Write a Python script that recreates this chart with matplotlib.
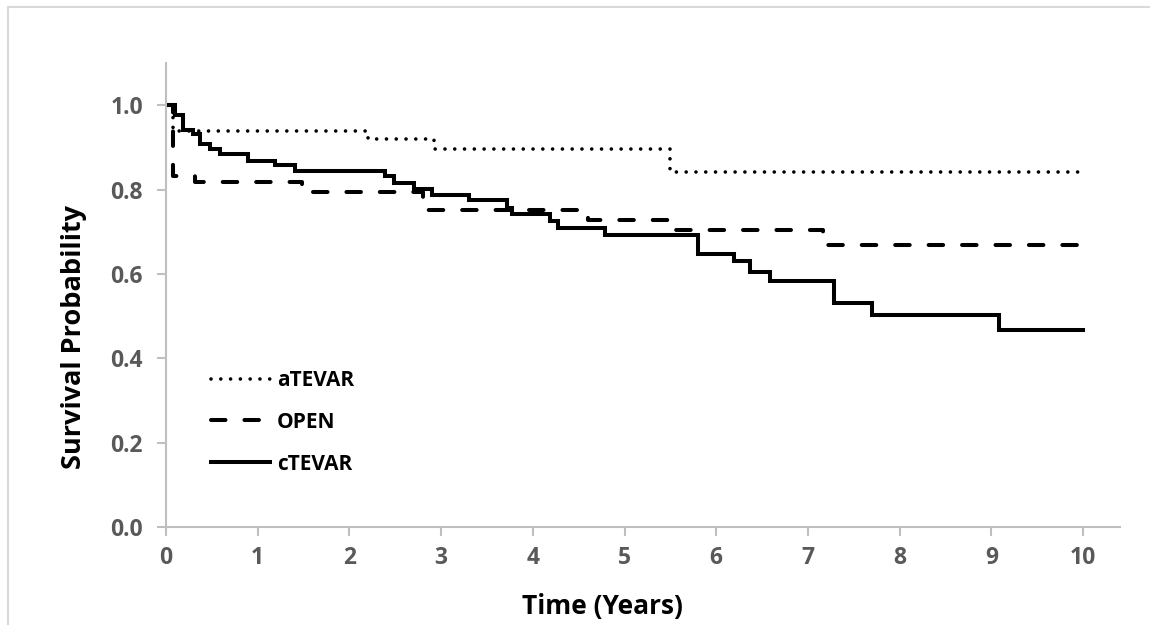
import matplotlib.pyplot as plt
from matplotlib.patches import Rectangle

# Kaplan-Meier step data (time in years, survival)
atevar_t = [0.0, 0.08, 2.20, 2.92, 5.50, 10.0]
atevar_s = [1.0, 0.938, 0.919, 0.895, 0.841, 0.841]

open_t = [0.0, 0.08, 0.32, 1.48, 2.80, 4.60, 5.50, 7.16, 10.0]
open_s = [1.0, 0.832, 0.818, 0.794, 0.752, 0.727, 0.704, 0.668, 0.668]

ctevar_t = [0.0, 0.10, 0.19, 0.30, 0.37, 0.48, 0.59, 0.90, 1.19, 1.41,
            2.39, 2.49, 2.70, 2.90, 3.30, 3.72, 3.77, 4.19, 4.28, 4.79,
            5.80, 6.19, 6.37, 6.59, 7.28, 7.70, 9.08, 10.0]
ctevar_s = [1.0, 0.976, 0.942, 0.932, 0.909, 0.895, 0.885, 0.868, 0.858, 0.844,
            0.831, 0.816, 0.801, 0.787, 0.775, 0.757, 0.742, 0.726, 0.710, 0.692,
            0.647, 0.630, 0.605, 0.583, 0.530, 0.502, 0.468, 0.468]

x_ticks = list(range(0, 11))
y_ticks = [0.0, 0.2, 0.4, 0.6, 0.8, 1.0]

plt.rcParams['font.family'] = ['Open Sans', 'DejaVu Sans']

fig = plt.figure(figsize=(11.5, 6.25), dpi=100)
ax = fig.add_axes([0.1443, 0.1568, 0.8294, 0.7424])

# light frame around the whole chart area
fig.patches.append(Rectangle((8 / 1150, -0.05), 1.1, 1.05 - 7 / 625,
                             transform=fig.transFigure, fill=False,
                             edgecolor='#d9d9d9', linewidth=1.5))

ax.step(atevar_t, atevar_s, where='post', color='black', lw=2.6,
        linestyle=(0, (0.01, 2.7)), dash_capstyle='round', label='aTEVAR')
ax.step(open_t, open_s, where='post', color='black', lw=2.9,
        linestyle=(0, (3.6, 4.7)), dash_capstyle='round', label='OPEN')
ax.step(ctevar_t, ctevar_s, where='post', color='black', lw=2.9,
        solid_joinstyle='miter', label='cTEVAR')

ax.set_xlim(0, 10.4)
ax.set_ylim(0, 1.1)
ax.set_xticks(x_ticks)
ax.set_yticks(y_ticks)
ax.set_yticklabels(['%.1f' % v for v in y_ticks])

for side in ['top', 'right']:
    ax.spines[side].set_visible(False)
for side in ['left', 'bottom']:
    ax.spines[side].set_color('#bfbfbf')
    ax.spines[side].set_linewidth(1.5)

ax.tick_params(axis='both', direction='out', length=6.5, width=1.5,
               color='#bfbfbf', labelcolor='#595959', labelsize=16.5)
ax.tick_params(axis='y', pad=10)
ax.tick_params(axis='x', pad=7)
for lab in ax.get_xticklabels() + ax.get_yticklabels():
    lab.set_fontweight('bold')

ax.set_xlabel('Time (Years)', fontsize=19, fontweight='bold')
ax.set_ylabel('Survival Probability', fontsize=19.5, fontweight='bold', labelpad=17)
# Excel centres the titles on its plot area, a bit off the axes centre
ax.xaxis.set_label_coords(0.458, -0.142, transform=ax.transAxes)
ax.yaxis.label.set_y(0.41)

leg = ax.legend(loc='upper left', bbox_to_anchor=(0.028, 0.379), frameon=False,
                handlelength=2.8, handletextpad=0.35, labelspacing=1.0,
                prop={'size': 15, 'weight': 'bold'})

fig.savefig('out.png', dpi=100, facecolor='white')
